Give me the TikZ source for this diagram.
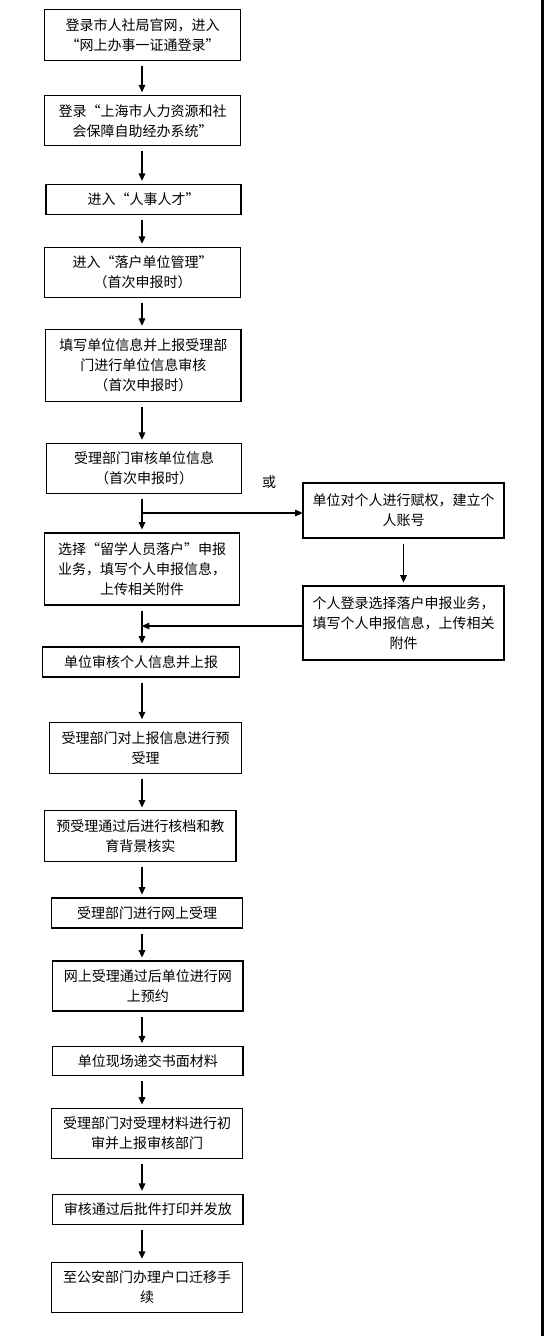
\documentclass[tikz,border=0pt]{standalone}
\usepackage{fontspec}
\setmainfont{Noto Sans CJK SC}
\usetikzlibrary{arrows.meta}
\tikzset{
  stepbox/.style 2 args={draw=black, line width=0.8pt, fill=white, align=center, inner sep=0pt,
    minimum width=#1*0.75pt, minimum height=#2*0.75pt,
    font=\fontsize{10.5}{15}\selectfont},
  arr/.style={line width=0.8pt, -{Triangle[width=5pt,length=5.5pt]}, shorten <=3.75pt, shorten >=2.25pt},
  tiparr/.style={line width=0.8pt, -{Triangle[width=5pt,length=5.5pt]}},
  plainlabel/.style={font=\fontsize{10.5}{15}\selectfont, inner sep=0pt}
}
\begin{document}
\begin{tikzpicture}[x=0.75pt, y=-0.75pt]
\fill[white] (0,0) rectangle (544,1336);
\useasboundingbox (0,0) rectangle (544,1336);
\fill[black] (541,0) rectangle (544,1336);

\coordinate (ax) at (142,0);
\coordinate (j1) at (142,513);
\coordinate (j2) at (142,626);

\node[stepbox={196}{50.7}] (b1) at (142.5,35.3) {登录市人社局官网，进入\\“网上办事一证通登录”};
\node[stepbox={196}{50}] (b2) at (142.5,120.7) {登录“上海市人力资源和社\\会保障自助经办系统”};
\node[stepbox={195}{29.7}] (b3) at (143.5,199.2) {进入“人事人才”};
\node[stepbox={196}{50}] (b4) at (142.5,272.3) {进入“落户单位管理”\\（首次申报时）};
\node[stepbox={195.4}{72.4}] (b5) at (143.3,365.5) {填写单位信息并上报受理部\\门进行单位信息审核\\（首次申报时）};
\node[stepbox={194.5}{50}] (b6) at (144.2,468.3) {受理部门审核单位信息\\（首次申报时）};
\node[plainlabel] (or) at (269,482) {或};
\node[stepbox={201}{55}] (r1) at (403.5,510.5) {单位对个人进行赋权，建立个\\人账号};
\node[stepbox={195}{72}] (b7) at (142.1,569) {选择“留学人员落户”申报\\业务，填写个人申报信息，\\上传相关附件};
\node[stepbox={201}{74}] (r2) at (403.5,623) {个人登录选择落户申报业务，\\填写个人申报信息，上传相关\\附件};
\node[stepbox={197}{30}] (b8) at (141.1,662) {单位审核个人信息并上报};
\node[stepbox={192}{50.6}] (b9) at (145.5,748) {受理部门对上报信息进行预\\受理};
\node[stepbox={191.4}{50.7}] (b10) at (140.3,836.3) {预受理通过后进行核档和教\\育背景核实};
\node[stepbox={191.3}{30}] (b11) at (147.2,913) {受理部门进行网上受理};
\node[stepbox={190.4}{50}] (b12) at (147.8,986) {网上受理通过后单位进行网\\上预约};
\node[stepbox={190.4}{29.3}] (b13) at (147.8,1061.3) {单位现场递交书面材料};
\node[stepbox={191.3}{50.3}] (b14) at (147.2,1133.2) {受理部门对受理材料进行初\\审并上报审核部门};
\node[stepbox={190.4}{30}] (b15) at (147.8,1209.3) {审核通过后批件打印并发放};
\node[stepbox={191.3}{50}] (b16) at (147.2,1287.3) {至公安部门办理户口迁移手\\续};

\draw[arr] (b1.south -| ax) -- (b2.north -| ax);
\draw[arr] (b2.south -| ax) -- (b3.north -| ax);
\draw[arr] (b3.south -| ax) -- (b4.north -| ax);
\draw[arr] (b4.south -| ax) -- (b5.north -| ax);
\draw[arr] (b5.south -| ax) -- (b6.north -| ax);
\draw[arr] (b6.south -| ax) -- (b7.north -| ax);
\draw[tiparr] (j1) -- (r1.west |- j1);
\draw[arr] (r1.south) -- (r2.north);
\draw[tiparr] (r2.west |- j2) -- (j2);
\draw[arr] (b7.south -| ax) -- (b8.north -| ax);
\draw[arr] (b8.south -| ax) -- (b9.north -| ax);
\draw[arr] (b9.south -| ax) -- (b10.north -| ax);
\draw[arr] (b10.south -| ax) -- (b11.north -| ax);
\draw[arr] (b11.south -| ax) -- (b12.north -| ax);
\draw[arr] (b12.south -| ax) -- (b13.north -| ax);
\draw[arr] (b13.south -| ax) -- (b14.north -| ax);
\draw[arr] (b14.south -| ax) -- (b15.north -| ax);
\draw[arr] (b15.south -| ax) -- (b16.north -| ax);
\end{tikzpicture}
\end{document}
